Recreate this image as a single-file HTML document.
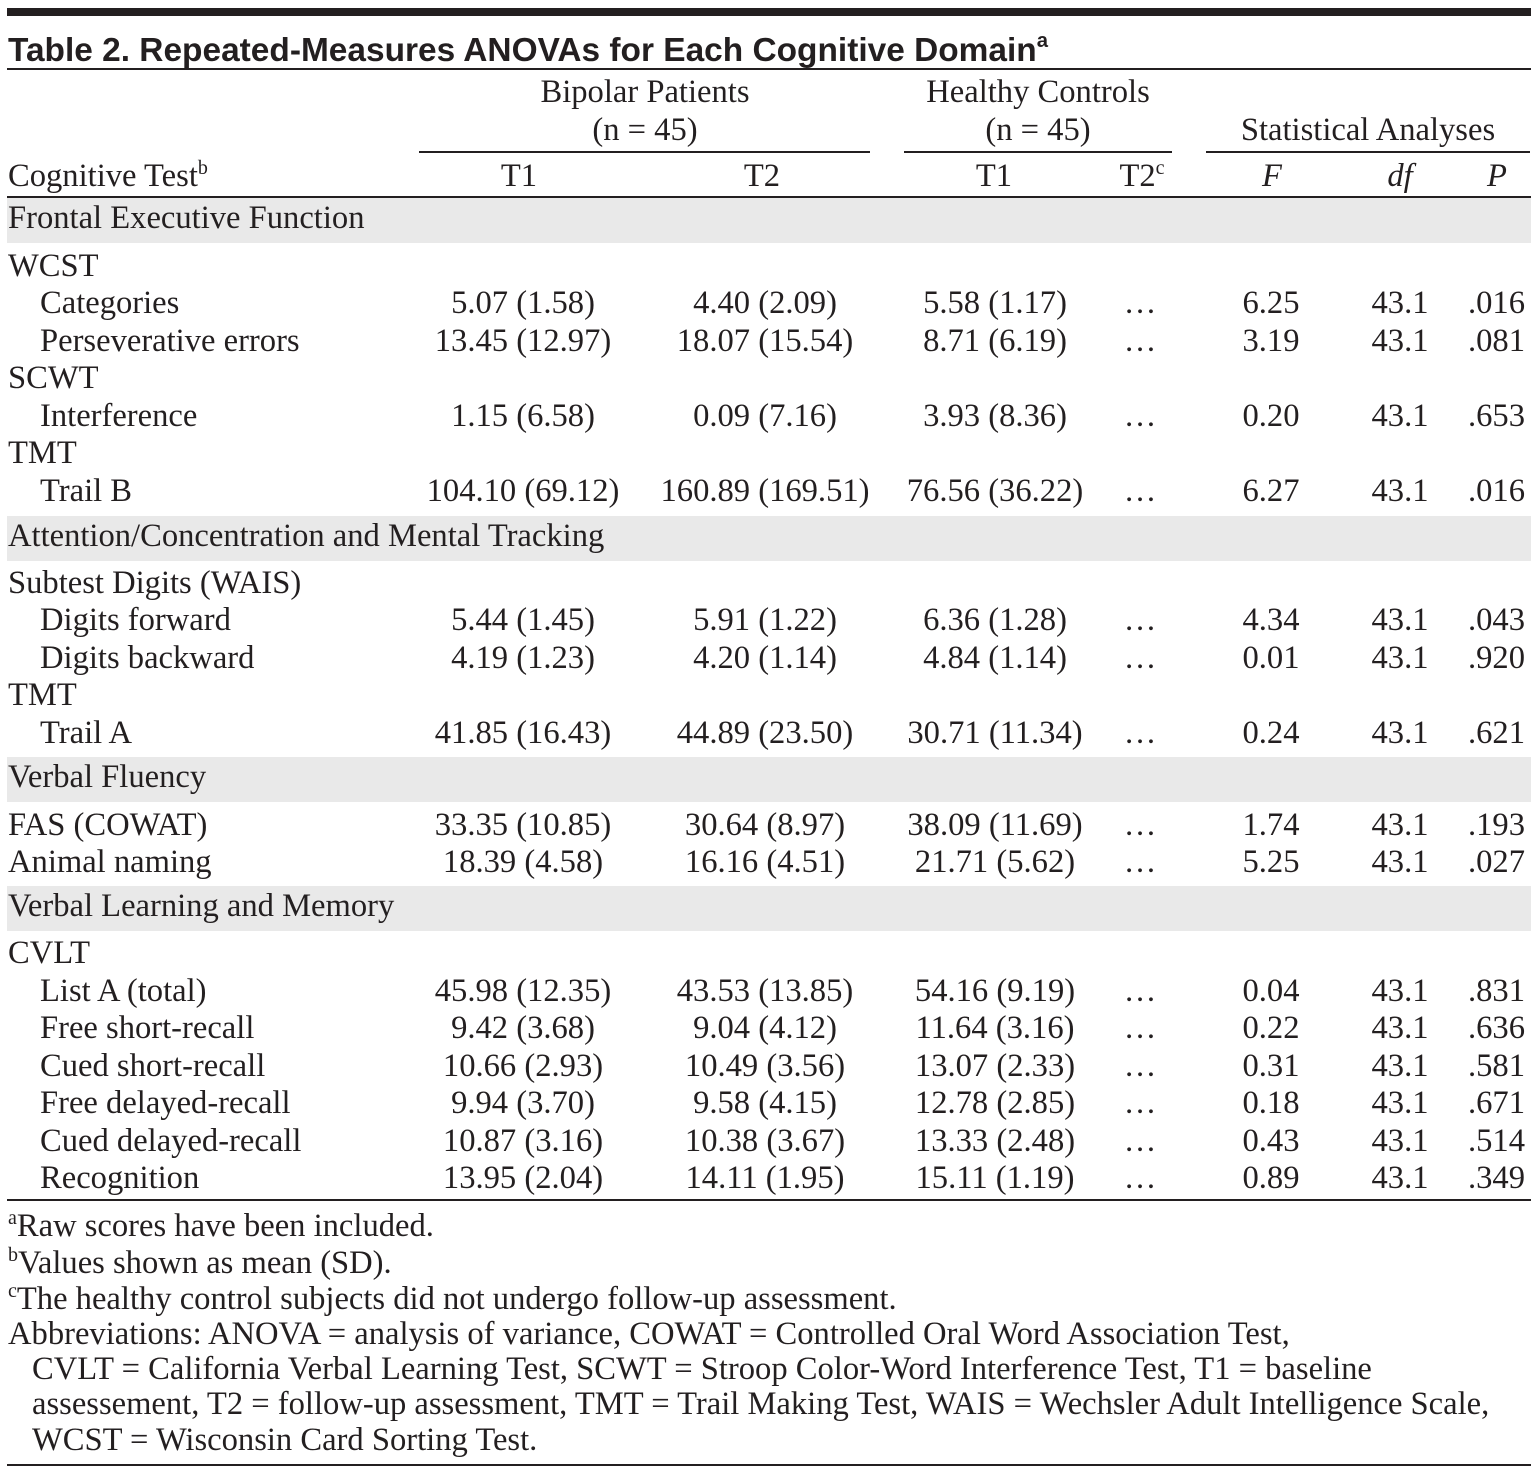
<!DOCTYPE html>
<html><head><meta charset="utf-8"><style>
html,body{margin:0;padding:0;background:#fff}
svg{display:block}
text{font-family:"Liberation Serif",serif;font-size:32.6px;fill:#231f20}
</style></head><body>
<svg id="tbl" width="1538" height="1475" viewBox="0 0 1538 1475" xmlns="http://www.w3.org/2000/svg">
<rect x="7" y="8" width="1524" height="8" fill="#231f20"/>
<text x="8" y="61" textLength="1040" lengthAdjust="spacingAndGlyphs" style="font-family:'Liberation Sans',sans-serif;font-weight:bold;font-size:33px">Table 2. Repeated-Measures ANOVAs for Each Cognitive Domain<tspan font-size="20" dy="-14">a</tspan></text>
<rect x="7" y="68" width="1524" height="2" fill="#231f20"/>
<text x="645" y="102" text-anchor="middle">Bipolar Patients</text>
<text x="645" y="140" text-anchor="middle">(n = 45)</text>
<text x="1038" y="102" text-anchor="middle">Healthy Controls</text>
<text x="1038" y="140" text-anchor="middle">(n = 45)</text>
<text x="1368" y="140" text-anchor="middle">Statistical Analyses</text>
<rect x="419" y="151" width="451" height="2" fill="#231f20"/>
<rect x="904" y="151" width="268" height="2" fill="#231f20"/>
<rect x="1206" y="151" width="324" height="2" fill="#231f20"/>
<text x="8" y="186">Cognitive Test<tspan font-size="20" dy="-12">b</tspan></text>
<text x="519" y="186" text-anchor="middle">T1</text>
<text x="762" y="186" text-anchor="middle">T2</text>
<text x="994" y="186" text-anchor="middle">T1</text>
<text x="1142" y="186" text-anchor="middle">T2<tspan font-size="20" dy="-12">c</tspan></text>
<text x="1272" y="186" text-anchor="middle" font-style="italic">F</text>
<text x="1400" y="186" text-anchor="middle" font-style="italic">df</text>
<text x="1497" y="186" text-anchor="middle" font-style="italic">P</text>
<rect x="7" y="196" width="1524" height="2" fill="#231f20"/>
<g id="body"></g>
<rect x="7" y="1199" width="1524" height="2" fill="#231f20"/>
<text x="8" y="1236"><tspan font-size="20" dy="-12">a</tspan><tspan dy="12">Raw scores have been included.</tspan></text>
<text x="8" y="1273"><tspan font-size="20" dy="-12">b</tspan><tspan dy="12">Values shown as mean (SD).</tspan></text>
<text x="8" y="1309"><tspan font-size="20" dy="-12">c</tspan><tspan dy="12">The healthy control subjects did not undergo follow-up assessment.</tspan></text>
<text x="8" y="1344">Abbreviations: ANOVA = analysis of variance, COWAT = Controlled Oral Word Association Test,</text>
<text x="32" y="1379">CVLT = California Verbal Learning Test, SCWT = Stroop Color-Word Interference Test, T1 = baseline</text>
<text x="32" y="1414">assessement, T2 = follow-up assessment, TMT = Trail Making Test, WAIS = Wechsler Adult Intelligence Scale,</text>
<text x="32" y="1450">WCST = Wisconsin Card Sorting Test.</text>
<rect x="7" y="1464" width="1524" height="2" fill="#231f20"/>
</svg>
<script>
const rowLabels = ["Frontal Executive Function","WCST","Categories","Perseverative errors","SCWT","Interference","TMT","Trail B","Attention/Concentration and Mental Tracking","Subtest Digits (WAIS)","Digits forward","Digits backward","TMT","Trail A","Verbal Fluency","FAS (COWAT)","Animal naming","Verbal Learning and Memory","CVLT","List A (total)","Free short-recall","Cued short-recall","Free delayed-recall","Cued delayed-recall","Recognition"];
const rowTypes = ["section","group","sub","sub","group","sub","group","sub","section","group","sub","sub","group","sub","section","top","top","section","group","sub","sub","sub","sub","sub","sub"];
const rowY = [228,276,313,351,388,426,463,501,546,593,630,668,705,743,787,835,872,916,963,1001,1038,1076,1113,1151,1188];
const bpT1 = [null,null,"5.07 (1.58)","13.45 (12.97)",null,"1.15 (6.58)",null,"104.10 (69.12)",null,null,"5.44 (1.45)","4.19 (1.23)",null,"41.85 (16.43)",null,"33.35 (10.85)","18.39 (4.58)",null,null,"45.98 (12.35)","9.42 (3.68)","10.66 (2.93)","9.94 (3.70)","10.87 (3.16)","13.95 (2.04)"];
const bpT2 = [null,null,"4.40 (2.09)","18.07 (15.54)",null,"0.09 (7.16)",null,"160.89 (169.51)",null,null,"5.91 (1.22)","4.20 (1.14)",null,"44.89 (23.50)",null,"30.64 (8.97)","16.16 (4.51)",null,null,"43.53 (13.85)","9.04 (4.12)","10.49 (3.56)","9.58 (4.15)","10.38 (3.67)","14.11 (1.95)"];
const hcT1 = [null,null,"5.58 (1.17)","8.71 (6.19)",null,"3.93 (8.36)",null,"76.56 (36.22)",null,null,"6.36 (1.28)","4.84 (1.14)",null,"30.71 (11.34)",null,"38.09 (11.69)","21.71 (5.62)",null,null,"54.16 (9.19)","11.64 (3.16)","13.07 (2.33)","12.78 (2.85)","13.33 (2.48)","15.11 (1.19)"];
const fVals = [null,null,"6.25","3.19",null,"0.20",null,"6.27",null,null,"4.34","0.01",null,"0.24",null,"1.74","5.25",null,null,"0.04","0.22","0.31","0.18","0.43","0.89"];
const dfVals = [null,null,"43.1","43.1",null,"43.1",null,"43.1",null,null,"43.1","43.1",null,"43.1",null,"43.1","43.1",null,null,"43.1","43.1","43.1","43.1","43.1","43.1"];
const pVals = [null,null,".016",".081",null,".653",null,".016",null,null,".043",".920",null,".621",null,".193",".027",null,null,".831",".636",".581",".671",".514",".349"];

const NS="http://www.w3.org/2000/svg";
const g=document.getElementById('body');
function txt(x,y,s,anchor,name){
  const t=document.createElementNS(NS,'text');
  t.setAttribute('x',x);t.setAttribute('y',y);
  if(anchor)t.setAttribute('text-anchor',anchor);
  t.textContent=s;
  
  
  g.appendChild(t);return t;
}
rowLabels.forEach((lab,i)=>{
  const y=rowY[i], ty=rowTypes[i];
  if(ty==='section'){
    const r=document.createElementNS(NS,'rect');
    r.setAttribute('x',7);r.setAttribute('y',y-30);r.setAttribute('width',1524);r.setAttribute('height',45);
    r.setAttribute('fill','#e9e9e9');
    
    
    g.appendChild(r);
    txt(8,y,lab,null,'section-label');
    return;
  }
  txt(ty==='sub'?40:8,y,lab,null,'row-label');
  if(bpT1[i]){
    txt(523,y,bpT1[i],'middle','bp-t1-value');
    txt(765,y,bpT2[i],'middle','bp-t2-value');
    txt(995,y,hcT1[i],'middle','hc-t1-value');
    txt(1140,y,'\u2026','middle','hc-t2-value');
    txt(1271,y,fVals[i],'middle','f-value');
    txt(1400,y,dfVals[i],'middle','df-value');
    txt(1525,y,pVals[i],'end','p-value');
  }
});
</script>
</body></html>
